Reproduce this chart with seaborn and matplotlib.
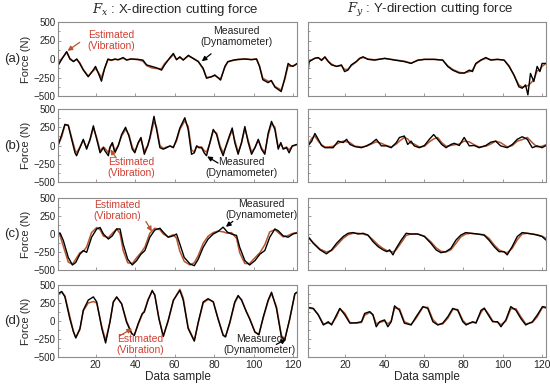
import numpy as np
import pandas as pd
import matplotlib
matplotlib.use("Agg")
import matplotlib.pyplot as plt
from matplotlib.ticker import MultipleLocator
import seaborn as sns

# values
# (a) Fx
a_x = [1, 3, 5.4, 7, 8.8, 10.5, 12, 13.8, 16.3, 18.8, 20, 21.4, 23, 24.6, 26.3, 28, 29.8, 31.5, 34, 35.7,
       38, 41.6, 44, 45.9, 48.4, 51, 53.4, 55, 57.7, 59.4, 61, 62.7, 64.4, 67, 69.5, 72, 74.5, 76.2, 78.7, 80.4,
       83.3, 85.5, 87, 89.7, 92, 95.6, 99, 101.5, 103, 104.7, 107.4, 109, 110.8, 114, 115.8, 117.5, 118.9, 120, 122]
a_meas = [-90, 0, 100, 0, -35, 0, -60, -150, -240, -150, -100, -190, -300, -125, 0, -15, 0, -10, 20, -15,
          0, -5, -15, -80, -100, -120, -150, -80, 20, 75, -10, 30, -15, 50, 5, -35, -125, -260, -240, -215,
          -285, -100, -35, -15, -5, 0, -10, 0, -100, -280, -320, -290, -380, -440, -260, -60, -90, -100, -60]
a_est = [-60, 10, 90, 10, -30, -5, -50, -140, -230, -160, -130, -180, -250, -130, -10, -20, -5, -10, 10, -10,
         0, -10, -30, -90, -120, -130, -130, -60, 10, 60, -5, 20, -10, 40, 10, -30, -140, -250, -240, -225,
         -270, -110, -40, -20, -10, 0, -5, 0, -90, -260, -300, -300, -370, -420, -280, -90, -100, -90, -70]

# (b) Fx
b_x = [1, 2.9, 4.5, 6.2, 7.9, 9.6, 10.4, 12.1, 13.8, 15.5, 17.2, 18.9, 20.6, 22.3, 24, 24.8, 26.5, 27.3, 28.5, 29.8,
       31.5, 33.2, 35.2, 36.9, 38.6, 39.9, 41.6, 43, 44.7, 46.4, 47.5, 49.6, 50.9, 52.6, 54.3, 56, 57.7, 59.4, 61, 62.7,
       65.2, 66.9, 68.6, 70, 71.2, 72.3, 73.7, 75, 76.2, 77.9, 79.6, 81.3, 83, 84.6, 86.3, 88, 89.2, 90.5, 92.2, 93.9,
       95.6, 97.3, 99, 100.7, 102.4, 104, 105.7, 107.4, 109.1, 110.8, 112.5, 113.8, 115, 116.7, 118, 119.6, 122]
b_meas = [0, 150, 290, 275, 85, -100, -140, -30, 85, -50, 85, 270, 85, -100, -30, -75, -140, -30, 40, -100,
          -5, 150, 250, 130, -50, -100, 40, 110, -120, -5, 110, 400, 220, -30, -50, -30, -5, -30, 85, 240,
          380, 220, -120, -100, -5, -30, -30, -100, -140, 40, 220, 150, -30, -140, 15, 150, 240, 40, -120, 40,
          260, 40, -120, -30, 85, -50, -120, 170, 330, 220, -50, 40, -50, -30, -100, -5, 15]
b_est = [0, 120, 280, 280, 110, -60, -100, -20, 70, -30, 70, 240, 110, -70, -20, -40, -100, -20, 30, -70,
         0, 130, 220, 150, -20, -80, 30, 90, -80, 0, 90, 330, 250, 0, -40, -20, -10, -20, 60, 220,
         340, 260, -60, -90, -10, -20, -20, -70, -90, 30, 200, 170, 0, -100, 0, 130, 210, 70, -90, 30,
         230, 70, -90, -30, 70, -30, -100, 140, 300, 250, -20, 20, -40, -20, -60, -10, 10]

# (c) Fx
c_x = [1, 2, 3.7, 6.2, 8.3, 10, 12.1, 13.8, 15.5, 18, 20.6, 22.3, 24, 26.5, 28.5, 30.7, 32.4, 34, 36.3, 38.6,
       40.8, 43, 45, 47.5, 50, 52.6, 54.3, 56.8, 59.4, 61, 62.7, 64.9, 67.8, 70, 72, 74.5, 77, 79.6, 82, 84.6,
       86.8, 88.8, 91.4, 93, 95.6, 98, 100.7, 103.2, 105.7, 108.2, 110.8, 112.5, 115, 117.5, 120, 122]
c_meas = [0, 15, -90, -325, -430, -395, -280, -230, -255, -45, 70, 90, 0, -70, -25, 70, 70, -140, -350, -430,
          -370, -280, -230, -45, 55, 80, 25, -45, -25, 0, -140, -325, -415, -440, -350, -185, -70, 0, 35, 95,
          25, 0, -20, -185, -370, -430, -370, -280, -230, -45, 70, 45, -25, -45, 0, 15]
c_est = [0, -20, -170, -390, -420, -350, -260, -240, -180, 20, 90, 60, -30, -50, 10, 70, 10, -230, -400, -410,
         -330, -260, -180, 10, 80, 60, 0, -40, -10, -60, -240, -380, -430, -400, -300, -130, -30, 20, 40, 30,
         10, 20, -60, -260, -410, -410, -330, -260, -150, 30, 60, 20, -40, -20, 10, 20]

# (d) Fx
d_x = [1, 2.9, 4.5, 7, 8.8, 10, 12.1, 13.8, 16.3, 18.9, 20.6, 23.2, 25.1, 27.3, 29, 30.7, 33.2, 35.7, 38.3, 39.6,
       41.6, 43.6, 44.7, 46.6, 48.7, 50, 52.1, 54.3, 56.8, 59.4, 61.6, 62.7, 64.4, 66.9, 70, 72, 74.5, 77, 79.6, 82,
       84.6, 85.8, 88, 90.5, 92.2, 93.9, 96.4, 98, 100.7, 102.7, 104.9, 107.4, 109.1, 111.6, 114.1, 115.8, 118.3, 120.9, 122]
d_meas = [380, 410, 335, 30, -150, -235, -105, 150, 290, 335, 265, -105, -305, -15, 265, 335, 240, -15, -175, -200,
          -35, 100, 125, 290, 425, 355, 30, -215, 10, 290, 380, 425, 290, -105, -280, -15, 265, 310, 265, 30,
          -200, -220, -15, 265, 355, 290, 125, 30, -155, -190, 55, 290, 400, 175, -220, -265, 30, 380, 400]
d_est = [370, 400, 350, 60, -140, -230, -120, 140, 250, 270, 250, -80, -270, -10, 260, 330, 240, 0, -170, -200,
         -50, 90, 140, 300, 410, 370, 40, -210, 0, 280, 390, 440, 320, -90, -270, -30, 250, 300, 270, 40,
         -190, -220, -30, 250, 340, 300, 130, 40, -150, -190, 40, 280, 380, 200, -200, -250, 20, 370, 400]

# (a) Fy
ra_x = [1, 1.5, 2.9, 4.5, 6.2, 7.9, 9.6, 11.3, 13, 15.5, 18, 19.6, 21.3, 23, 25.5, 27.3, 29, 31.5, 34.9, 40,
        45, 50, 53.4, 56.8, 60.2, 65.2, 69.5, 72, 74.5, 77.9, 80.4, 83, 84.6, 86.3, 88.8, 91.4, 93.9, 97.3, 100.7, 103.2,
        105.7, 108.2, 109.9, 111.6, 112.8, 114.1, 115.8, 117.5, 118.9, 120, 122]
ra_meas = [-195, -35, -15, 10, 20, -20, 30, -35, -80, -100, -80, -170, -150, -80, -35, 10, 30, -5, -15, 10,
           -15, -35, -60, -15, -5, -5, -15, -100, -150, -190, -190, -150, -170, -60, -15, 20, -15, -5, -15, -100,
           -215, -375, -395, -350, -485, -195, -305, -100, -170, -60, -60]
ra_est = [-100, -40, -10, 10, 15, -10, 20, -30, -70, -100, -90, -140, -140, -90, -40, 5, 20, 0, -10, 5,
          -10, -30, -55, -20, -5, -5, -15, -90, -140, -180, -190, -170, -150, -70, -20, 10, -10, -5, -15, -90,
          -220, -350, -380, -370, -360, -330, -280, -160, -150, -100, -60]

# (b) Fy
rb_x = [1, 2.9, 4.5, 6.2, 7.9, 9.6, 11.3, 13.8, 16.3, 18.9, 20.6, 22.3, 24.8, 28.2, 30.7, 33.2, 35.7, 38.3, 40.8, 43.3,
        45.9, 47.5, 50, 51.7, 53.4, 55, 57.6, 60.2, 62.7, 64.9, 66.9, 69, 71.2, 73.7, 75.4, 77.9, 80.4, 83, 85.5, 88,
        91.4, 93.9, 96.4, 98.9, 102.3, 104.9, 107.4, 109.9, 112.5, 115, 117.5, 120, 122]
rb_meas = [-5, 60, 165, 85, 0, -30, -30, -30, 60, 40, 85, 15, -15, -30, -5, 30, 85, -5, -5, -30,
           40, 110, 130, 15, 60, -5, -30, 0, 85, 150, 85, 15, -30, 15, 30, 0, 110, -5, 0, -30,
           0, 45, 60, -5, -30, 15, 85, 120, 85, -30, -5, -30, 0]
rb_est = [0, 100, 130, 60, 10, -20, -20, -10, 30, 60, 50, 40, -10, -20, -10, 20, 50, 30, 0, -20,
          20, 60, 110, 90, 30, 20, -20, -10, 50, 90, 110, 40, -10, 0, 10, 20, 60, 50, 10, -20,
          -10, 20, 60, 40, -20, 0, 60, 80, 110, 40, -20, -10, 10]

# (c) Fy
rc_x = [1, 3.7, 7.1, 10.4, 13, 15.5, 18.9, 21.4, 23.9, 26.5, 29, 31.5, 34, 36.6, 39.1, 41.1, 42.5, 44.2, 45.8, 48.4,
        50.9, 53.4, 56.8, 60.2, 63.5, 66.1, 68.6, 71.1, 73.6, 76.2, 78.7, 81.2, 83.7, 87.1, 90.5, 93, 95.6, 98.1, 100.6, 102.3,
        104.8, 107.4, 109.9, 112.4, 115, 117.5, 120, 122]
rc_meas = [-35, -130, -220, -275, -220, -130, -35, 10, 20, 0, 10, -15, -105, -175, -220, -245, -220, -290, -200, -85,
           10, 0, 0, -35, -130, -220, -260, -245, -200, -85, -15, 20, 10, 0, -15, -85, -175, -245, -245, -290,
           -175, -35, 20, 10, 0, -15, -35, -85]
rc_est = [-40, -120, -210, -250, -230, -160, -60, -10, 10, 10, 0, -20, -80, -150, -200, -230, -240, -250, -220, -120,
          -20, 0, 0, -30, -110, -190, -240, -250, -220, -130, -40, 0, 10, 0, -10, -60, -150, -220, -250, -260,
          -200, -80, 0, 10, 0, -10, -30, -60]

# (d) Fy
rd_x = [1, 3.7, 6.2, 8.8, 11.3, 13, 15.5, 17.2, 19.7, 22.3, 25.6, 28.2, 29.8, 32.4, 34, 35.7, 37.4, 39.9, 41.6, 43.3,
        45, 47.5, 50, 53.4, 56, 59.4, 61.9, 64.5, 67, 69.5, 72.1, 74.6, 77.1, 79.7, 81.4, 84.7, 86.4, 89, 90.6, 93.2,
        94.9, 97.4, 99.1, 101.6, 104.1, 106.7, 109.2, 111.7, 115.1, 117.6, 120.2, 122]
rd_meas = [190, 175, 85, -55, -10, -55, 85, 175, 85, -30, -25, -10, 105, 130, 85, -80, -10, 15, -80, -10,
           210, 150, -30, -55, 60, 200, 175, -10, -55, -30, 60, 175, 150, -10, -55, -10, -30, 150, 175, 60,
           -10, -10, -80, 15, 200, 150, 35, -55, -10, 85, 200, 190]
rd_est = [180, 170, 90, -40, -30, -40, 60, 170, 110, -20, -30, -20, 80, 120, 90, -40, -20, 0, -40, 0,
          180, 170, -10, -50, 40, 190, 190, 20, -50, -40, 40, 160, 160, 10, -40, -20, -20, 120, 180, 80,
          0, -20, -50, 0, 170, 170, 60, -40, -20, 60, 190, 180]

row_labels = ["(a)", "(b)", "(c)", "(d)"]
fx_data = [(a_x, a_meas, a_est), (b_x, b_meas, b_est), (c_x, c_meas, c_est), (d_x, d_meas, d_est)]
fy_data = [(ra_x, ra_meas, ra_est), (rb_x, rb_meas, rb_est), (rc_x, rc_meas, rc_est), (rd_x, rd_meas, rd_est)]

# annotation positions (data coords): text, arrow tail, arrow head
est_notes = [((28, 250), (12, 225), (5.8, 110)),
             ((38, -300), (30.5, -170), (27.5, -55)),
             ((31, 330), (45.5, 175), (48.5, 35)),
             ((42.5, -330), (32, -210), (38.5, -105))]
meas_notes = [((91.5, 300), (78.5, 70), (73.8, -30)),
              ((94, -300), (82, -240), (76.5, -150)),
              ((104, 340), (89.5, 175), (86, 100)),
              ((103, -330), (111.5, -325), (116.5, -255))]

sns.set_style("ticks")
plt.rcParams['font.family'] = ['Liberation Sans', 'DejaVu Sans']
plt.rcParams['mathtext.fontset'] = 'dejavuserif'

meas_color = "black"
est_color = "#b8552e"
txt_red = "#cf4034"
spine_color = "#8c8c8c"

fig = plt.figure(figsize=(5.5, 3.86), dpi=100)
W, H = 550.0, 386.0
rows_px = [(22, 96), (109, 182), (198, 270), (285, 357)]
cols_px = [(58, 297), (308, 546)]

for r, (top, bot) in enumerate(rows_px):
    for c, (lft, rgt) in enumerate(cols_px):
        ax = fig.add_axes([lft / W, 1 - bot / H, (rgt - lft) / W, (bot - top) / H])
        xs, meas, est = (fx_data if c == 0 else fy_data)[r]
        sns.lineplot(x=xs, y=est, ax=ax, color=est_color, lw=1.1, sort=False)
        sns.lineplot(x=xs, y=meas, ax=ax, color=meas_color, lw=1.0, sort=False)
        ax.set_xlim(1, 122)
        ax.set_ylim(-500, 500)
        ax.xaxis.set_major_locator(MultipleLocator(20))
        ax.yaxis.set_major_locator(MultipleLocator(250))
        ax.yaxis.set_minor_locator(MultipleLocator(125))
        ax.tick_params(which='both', direction='in', length=2.5, width=0.6, color=spine_color,
                       labelsize=7, pad=2)
        ax.tick_params(axis='x', labelsize=7.5)
        ax.tick_params(which='minor', length=1.5)
        for s in ax.spines.values():
            s.set_color(spine_color)
            s.set_linewidth(0.8)
        if r < 3:
            ax.set_xticklabels([])
        else:
            ax.set_xlabel("Data sample", fontsize=8.5, labelpad=1)
        if c == 0:
            ax.set_ylabel("Force (N)", fontsize=8)
            ax.yaxis.set_label_coords(-0.113, 0.5)
            fig.text(12 / W, 1 - (top + bot) / 2 / H, row_labels[r], fontsize=9.5,
                     ha='center', va='center')
            (tx, ty), tail, head = est_notes[r]
            ax.text(tx, ty, "Estimated\n(Vibration)", color=txt_red, fontsize=7.5,
                    ha='center', va='center', linespacing=1.1)
            ax.annotate("", xy=head, xytext=tail,
                        arrowprops=dict(arrowstyle='-|>', color=est_color, lw=0.9,
                                        mutation_scale=7, shrinkA=0, shrinkB=0))
            (tx, ty), tail, head = meas_notes[r]
            ax.text(tx, ty, "Measured\n(Dynamometer)", color="#222222", fontsize=7.5,
                    ha='center', va='center', linespacing=1.1)
            ax.annotate("", xy=head, xytext=tail,
                        arrowprops=dict(arrowstyle='-|>', color="black", lw=0.9,
                                        mutation_scale=7, shrinkA=0, shrinkB=0))
        else:
            ax.set_yticklabels([])
            ax.set_ylabel("")

fig.text(175 / W, 1 - 10 / H, r"$F_x$ : X-direction cutting force", fontsize=9.5,
         ha='center', va='center')
fig.text(430 / W, 1 - 10 / H, r"$F_y$ : Y-direction cutting force", fontsize=9.5,
         ha='center', va='center')

fig.savefig("out.png", dpi=100)
